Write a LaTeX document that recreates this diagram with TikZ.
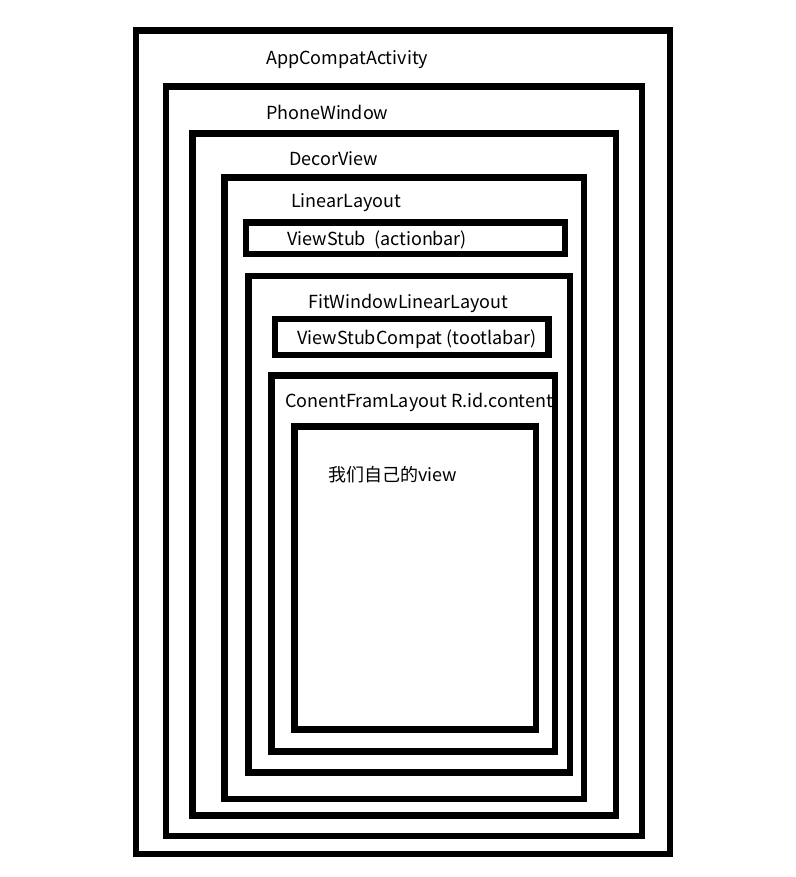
\documentclass[tikz,border=0pt]{standalone}
\usepackage{fontspec}
\setmainfont{Noto Sans CJK SC}
\tikzset{
  frame/.style={draw=black,line width=6.7pt},
  lbl/.style={anchor=west,inner sep=0pt,font=\fontsize{18pt}{20pt}\selectfont}
}
\begin{document}
\begin{tikzpicture}[x=1pt,y=-1pt]
\useasboundingbox (0,0) rectangle (795,877);
\draw[frame] (136,30.7) rectangle (670,854);
\draw[frame] (166,86.7) rectangle (642,836);
\draw[frame] (192.5,133.3) rectangle (616,815.7);
\draw[frame] (224.6,177.3) rectangle (584,799);
\draw[frame] (246,222.3) rectangle (565,254);
\draw[frame] (248.3,276) rectangle (570,772.7);
\draw[frame] (275,319) rectangle (548.3,355);
\draw[frame] (271.7,375.7) rectangle (555,751.7);
\draw[frame] (294.3,426.7) rectangle (536,729.3);
\node[lbl] (act) at (266,60) {AppCompatActivity};
\node[lbl] (win) at (266,112) {PhoneWindow};
\node[lbl] (decor) at (289,159) {DecorView};
\node[lbl] (lin) at (291,203) {LinearLayout};
\node[lbl] (stub) at (287,240) {ViewStub\ \ (actionbar)};
\node[lbl] (fit) at (308,303) {FitWindowLinearLayout};
\node[lbl] (stubc) at (297,339) {ViewStubCompat (tootlabar)};
\node[lbl] (cont) at (285,402) {ConentFramLayout R.id.content};
\node[lbl] (own) at (328,475) {我们自己的view};
\end{tikzpicture}
\end{document}
